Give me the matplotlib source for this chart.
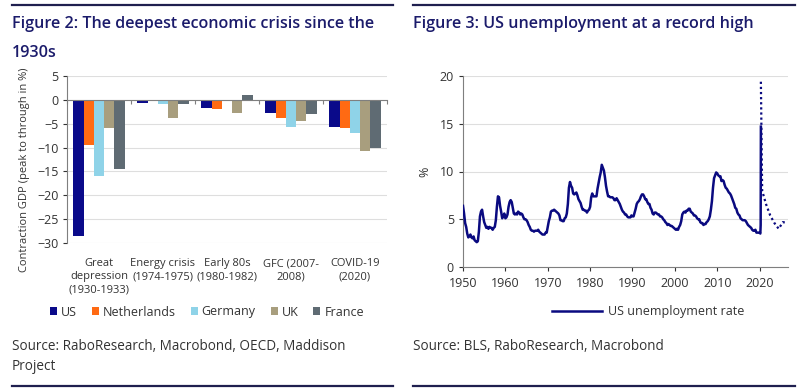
import matplotlib
matplotlib.use("Agg")
import matplotlib.pyplot as plt
import numpy as np
from matplotlib.patches import Patch
from matplotlib.lines import Line2D

plt.rcParams['font.family'] = ['Open Sans', 'DejaVu Sans']

# ---------------- Data: Figure 2 ----------------
categories = ["Great\ndepression\n(1930-1933)", "Energy crisis\n(1974-1975)", "Early 80s\n(1980-1982)",
              "GFC (2007-\n2008)", "COVID-19\n(2020)"]
countries = ["US", "Netherlands", "Germany", "UK", "France"]
us = [-28.5, -0.7, -1.8, -2.7, -5.7]
netherlands = [-9.5, 0.0, -2.0, -3.7, -5.8]
germany = [-16.0, -0.8, 0.0, -5.7, -7.0]
uk = [-5.8, -3.9, -2.8, -4.5, -10.8]
france = [-14.5, -0.9, 1.0, -2.9, -10.0]
bar_colors = ["#0a0a8a", "#ff6a13", "#8fd3e8", "#a89e7e", "#5f6b73"]

# ---------------- Data: Figure 3 (quarterly US unemployment rate) ----------------
unemp_start_year = 1950
unemp_quarterly = [
    6.4, 5.6, 4.6, 4.2,   # 1950
    3.5, 3.1, 3.2, 3.4,   # 1951
    3.1, 3.0, 3.2, 2.8,   # 1952
    2.7, 2.6, 2.7, 3.7,   # 1953
    5.3, 5.8, 6.0, 5.3,   # 1954
    4.7, 4.4, 4.1, 4.2,   # 1955
    4.0, 4.2, 4.1, 4.1,   # 1956
    3.9, 4.1, 4.2, 4.9,   # 1957
    6.3, 7.4, 7.3, 6.4,   # 1958
    5.8, 5.1, 5.3, 5.6,   # 1959
    5.1, 5.2, 5.5, 6.3,   # 1960
    6.8, 7.0, 6.8, 6.2,   # 1961
    5.6, 5.5, 5.6, 5.5,   # 1962
    5.8, 5.7, 5.5, 5.6,   # 1963
    5.5, 5.2, 5.0, 5.0,   # 1964
    4.9, 4.7, 4.4, 4.2,   # 1965
    3.9, 3.8, 3.8, 3.7,   # 1966
    3.8, 3.8, 3.8, 3.9,   # 1967
    3.7, 3.6, 3.5, 3.4,   # 1968
    3.4, 3.4, 3.6, 3.6,   # 1969
    4.2, 4.8, 5.2, 5.8,   # 1970
    5.9, 5.9, 6.0, 5.9,   # 1971
    5.8, 5.7, 5.6, 5.4,   # 1972
    4.9, 4.9, 4.8, 4.8,   # 1973
    5.1, 5.2, 5.6, 6.6,   # 1974
    8.3, 8.9, 8.5, 8.3,   # 1975
    7.7, 7.6, 7.7, 7.8,   # 1976
    7.5, 7.1, 6.9, 6.7,   # 1977
    6.3, 6.0, 6.0, 5.9,   # 1978
    5.9, 5.7, 5.9, 6.0,   # 1979
    6.3, 7.3, 7.7, 7.4,   # 1980
    7.4, 7.4, 7.4, 8.2,   # 1981
    8.8, 9.4, 9.9, 10.7,  # 1982
    10.4, 10.1, 9.4, 8.5, # 1983
    7.9, 7.4, 7.4, 7.3,   # 1984
    7.3, 7.3, 7.2, 7.0,   # 1985
    7.0, 7.2, 7.0, 6.8,   # 1986
    6.6, 6.3, 6.0, 5.8,   # 1987
    5.7, 5.5, 5.5, 5.3,   # 1988
    5.2, 5.2, 5.2, 5.4,   # 1989
    5.3, 5.3, 5.7, 6.1,   # 1990
    6.6, 6.8, 6.9, 7.1,   # 1991
    7.4, 7.6, 7.6, 7.4,   # 1992
    7.1, 7.1, 6.8, 6.6,   # 1993
    6.6, 6.2, 6.0, 5.6,   # 1994
    5.5, 5.7, 5.7, 5.6,   # 1995
    5.5, 5.5, 5.3, 5.3,   # 1996
    5.2, 5.0, 4.9, 4.7,   # 1997
    4.6, 4.4, 4.5, 4.4,   # 1998
    4.3, 4.3, 4.2, 4.1,   # 1999
    4.0, 3.9, 4.0, 3.9,   # 2000
    4.2, 4.4, 4.8, 5.5,   # 2001
    5.7, 5.8, 5.7, 5.9,   # 2002
    5.9, 6.1, 6.1, 5.8,   # 2003
    5.7, 5.6, 5.4, 5.4,   # 2004
    5.3, 5.1, 5.0, 5.0,   # 2005
    4.7, 4.6, 4.6, 4.4,   # 2006
    4.5, 4.5, 4.7, 4.8,   # 2007
    5.0, 5.3, 6.0, 6.9,   # 2008
    8.3, 9.3, 9.6, 9.9,   # 2009
    9.8, 9.6, 9.5, 9.5,   # 2010
    9.0, 9.1, 9.0, 8.6,   # 2011
    8.3, 8.2, 8.0, 7.8,   # 2012
    7.7, 7.5, 7.2, 6.9,   # 2013
    6.6, 6.2, 6.1, 5.7,   # 2014
    5.5, 5.4, 5.1, 5.0,   # 2015
    4.9, 4.9, 4.9, 4.8,   # 2016
    4.6, 4.4, 4.3, 4.2,   # 2017
    4.1, 3.9, 3.8, 3.8,   # 2018
    3.9, 3.6, 3.6, 3.6,   # 2019
]
recent_years = [2020.0, 2020.17, 2020.25, 2020.3]
recent_values = [3.6, 3.5, 4.4, 14.7]
forecast_years = [2020.3, 2020.6, 2021.5, 2022.5, 2023.5, 2024.5, 2025.5, 2026.5]
forecast_values = [19.4, 8.0, 6.6, 5.4, 4.6, 4.0, 4.7, 4.6]

navy = "#1b1b6b"
line_navy = "#0a0a80"
grid_col = "#dedede"
text_col = "#333333"

fig = plt.figure(figsize=(8.0, 3.92), dpi=100)
W, H = 800.0, 392.0

def fx(px):
    return px / W

def fy(py):
    return 1 - py / H

# ---------------- Left panel ----------------
ax1 = fig.add_axes([fx(67), fy(243), fx(387) - fx(67), fy(76) - fy(243)])
x = np.arange(len(categories))
width = 0.16
series = [us, netherlands, germany, uk, france]
for i, (vals, col, name) in enumerate(zip(series, bar_colors, countries)):
    ax1.bar(x + (i - 2) * width, vals, width=width, color=col, label=name, zorder=3)
ax1.set_xlim(-0.5, 4.5)
ax1.set_ylim(-30, 5)
ax1.set_yticks(np.arange(-30, 6, 5))
ax1.tick_params(axis='y', labelsize=9, colors=text_col, length=3, width=0.8, pad=3)
ax1.grid(axis='y', color=grid_col, linewidth=0.8, zorder=0)
for s in ['top', 'right']:
    ax1.spines[s].set_visible(False)
ax1.spines['left'].set_color('#7f7f7f')
ax1.spines['bottom'].set_position(('data', 0))
ax1.spines['bottom'].set_color('#7f7f7f')
ax1.spines['bottom'].set_zorder(4)
ax1.set_xticks(np.arange(-0.5, 4.6, 1.0))
ax1.set_xticklabels([])
ax1.tick_params(axis='x', length=3, width=0.8, color='#7f7f7f', direction='out')
for xi, lab in zip(x, categories):
    ax1.text(xi, -33.2, lab, ha='center', va='top', fontsize=8, color=text_col,
             linespacing=1.25)
ax1.set_ylabel("Contraction GDP (peak to through in %)", fontsize=8, color=text_col)
ax1.yaxis.set_label_coords(-0.115, 0.437)
for t in ax1.get_yticklabels():
    t.set_color(text_col)

handles = [Patch(facecolor=c, edgecolor='none') for c in bar_colors]
fig.legend(handles, countries, loc='center', bbox_to_anchor=(fx(207), fy(312)), ncol=5,
           frameon=False, fontsize=9, handlelength=0.55, handleheight=0.55,
           handletextpad=0.32, columnspacing=1.2, labelcolor=text_col)

# ---------------- Right panel ----------------
ax2 = fig.add_axes([fx(463), fy(267), fx(788) - fx(463), fy(76) - fy(267)])
years = unemp_start_year + np.arange(len(unemp_quarterly)) / 4.0
ax2.plot(np.concatenate([years, recent_years]), unemp_quarterly + recent_values,
         color=line_navy, linewidth=1.8, zorder=3)
ax2.plot(forecast_years, forecast_values, color=line_navy, linewidth=1.6,
         linestyle=(0, (1, 1.3)), zorder=3)
ax2.set_xlim(1950, 2026.7)
ax2.set_ylim(0, 20)
ax2.set_yticks([0, 5, 10, 15, 20])
ax2.set_xticks(np.arange(1950, 2021, 10))
ax2.tick_params(axis='both', labelsize=9, colors=text_col, length=3, width=0.8)
ax2.tick_params(axis='x', pad=4)
ax2.grid(axis='y', color=grid_col, linewidth=0.8, zorder=0)
for s in ['top', 'right']:
    ax2.spines[s].set_visible(False)
ax2.spines['left'].set_color('#7f7f7f')
ax2.spines['bottom'].set_color('#7f7f7f')
ax2.set_ylabel("%", fontsize=9, color=text_col, labelpad=6)

fig.legend([Line2D([0], [0], color=line_navy, linewidth=1.8)], ["US unemployment rate"],
           loc='center', bbox_to_anchor=(fx(648), fy(312)), frameon=False, fontsize=9,
           handlelength=4.0, handletextpad=0.5, labelcolor=text_col)

# ---------------- Titles, sources, rules ----------------
tsize = 11.6
fig.text(fx(12), fy(24), "Figure 2: The deepest economic crisis since the", fontsize=tsize,
         fontweight='semibold', color=navy, va='center', ha='left')
fig.text(fx(12), fy(53), "1930s", fontsize=tsize, fontweight='semibold', color=navy,
         va='center', ha='left')
fig.text(fx(413), fy(24), "Figure 3: US unemployment at a record high", fontsize=tsize,
         fontweight='semibold', color=navy, va='center', ha='left')

ssize = 9.75
fig.text(fx(12), fy(347), "Source: RaboResearch, Macrobond, OECD, Maddison", fontsize=ssize,
         color=text_col, va='center', ha='left')
fig.text(fx(12), fy(367), "Project", fontsize=ssize, color=text_col, va='center', ha='left')
fig.text(fx(413), fy(347), "Source: BLS, RaboResearch, Macrobond", fontsize=ssize,
         color=text_col, va='center', ha='left')

rule_col = "#1f1f4f"
for (x0, x1) in [(12, 393), (413, 795)]:
    fig.add_artist(Line2D([fx(x0), fx(x1)], [fy(5), fy(5)], color=rule_col, linewidth=1.6))
    fig.add_artist(Line2D([fx(x0), fx(x1)], [fy(386), fy(386)], color=rule_col, linewidth=1.6))

fig.savefig("out.png", dpi=100)
